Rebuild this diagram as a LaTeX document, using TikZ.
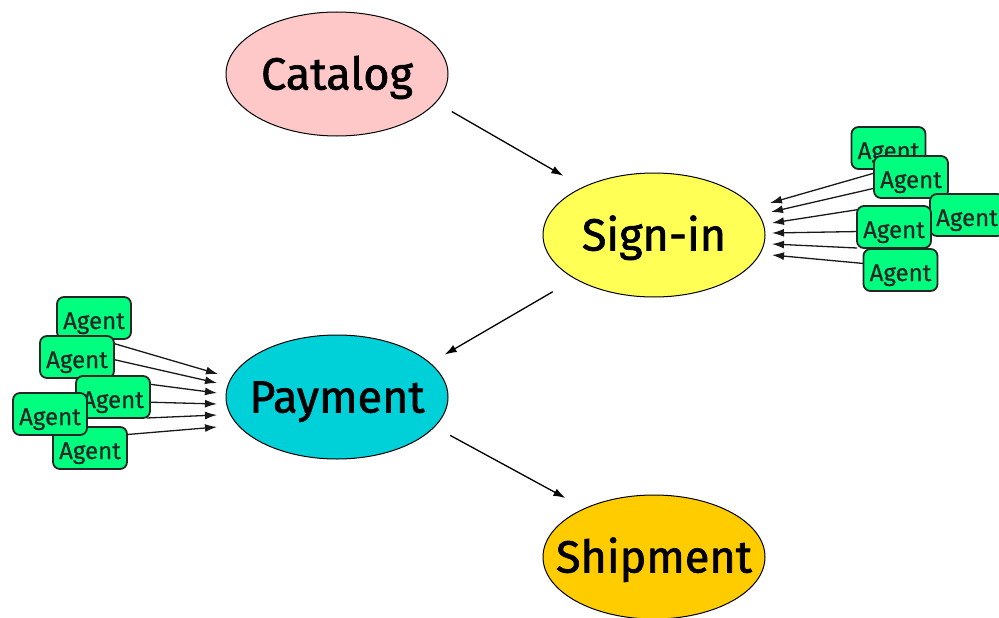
\documentclass[tikz,border=0pt]{standalone}
\usepackage{fontspec}
\usetikzlibrary{arrows.meta,shapes.geometric,backgrounds}
\newfontfamily\diagfont[FakeBold=1.5]{Fira Sans}
\newfontfamily\agentfont[FakeBold=0.5]{Fira Sans}
\definecolor{pinkc}{HTML}{FFC8C8}
\definecolor{yellowc}{HTML}{FFFF55}
\definecolor{cyanc}{HTML}{00D0D8}
\definecolor{goldc}{HTML}{FFCC00}
\definecolor{agentc}{HTML}{00FF7F}
\tikzset{
  stage/.style={ellipse,draw=black,line width=1pt,minimum width=222pt,minimum height=124pt,inner sep=-40pt,outer sep=0pt,text height=40pt,text depth=9pt,font=\diagfont\fontsize{45}{45}\selectfont,text=black},
  agentbox/.style={rectangle,rounded corners=7pt,draw=black!85,line width=1.8pt,fill=agentc,minimum width=74pt,minimum height=42pt,inner sep=0pt,outer sep=0pt,text height=22pt,text depth=0pt,font=\agentfont\fontsize{24}{24}\selectfont,text=black!85},
  flow/.style={-{Latex[length=12pt,width=8pt]},line width=1.3pt,black},
  feed/.style={-{Latex[length=12pt,width=8pt]},line width=1.3pt,black!90}
}
\begin{document}
\begin{tikzpicture}[x=1pt,y=-1pt]
\useasboundingbox (0,0) rectangle (999,618);
\node[stage,fill=pinkc] (catalog) at (337,74) {Catalog};
\node[stage,fill=yellowc] (signin) at (654,235) {Sign-in};
\node[stage,fill=cyanc] (payment) at (337,397) {Payment};
\node[stage,fill=goldc] (shipment) at (654,557) {Shipment};
% agents on the right
\node[agentbox] (r1) at (888.5,148) {Agent};
\node[agentbox] (r2) at (911,177) {Agent};
\node[agentbox] (r3) at (967,215) {Agent};
\node[agentbox] (r5) at (900.5,270) {Agent};
\node[agentbox] (r4) at (894,227) {Agent};
% agents on the left
\node[agentbox] (l1) at (94,318) {Agent};
\node[agentbox] (l2) at (77,357) {Agent};
\node[agentbox] (l3) at (113,397) {Agent};
\node[agentbox] (l5) at (90,448) {Agent};
\node[agentbox] (l4) at (50,414) {Agent};
% arrow target points
\coordinate (ta) at (770,203);
\coordinate (tb) at (771,212);
\coordinate (tc) at (772,223);
\coordinate (td) at (772,233);
\coordinate (te) at (772,244);
\coordinate (tf) at (772,255);
\coordinate (ua) at (218,374);
\coordinate (ub) at (217,383);
\coordinate (uc) at (217,393);
\coordinate (ud) at (217,404);
\coordinate (ue) at (217,415);
\coordinate (uf) at (217,427);
\begin{scope}[on background layer]
\draw[feed] (r1.south) -- (ta);
\draw[feed] (r2.197) -- (tb);
\draw[feed] (r4.155) -- (tc);
\draw[feed] (r4.187) -- (td);
\draw[feed] (r4.south west) -- (te);
\draw[feed] (r5.170) -- (tf);
\draw[feed] (l2.20) -- (ua);
\draw[feed] (l2.-4) -- (ub);
\draw[feed] (l3.19) -- (uc);
\draw[feed] (l3.-8) -- (ud);
\draw[feed] (l3.-32) -- (ue);
\draw[feed] (l5.20) -- (uf);
\end{scope}
\draw[flow,shorten <=18.5pt,shorten >=23pt] (catalog.-16) -- (signin.146.6);
\draw[flow,shorten <=26pt,shorten >=17pt] (signin.209.4) -- (payment.20.6);
\draw[flow,shorten <=18pt,shorten >=22pt] (payment.-17.5) -- (shipment.145);
\end{tikzpicture}
\end{document}
